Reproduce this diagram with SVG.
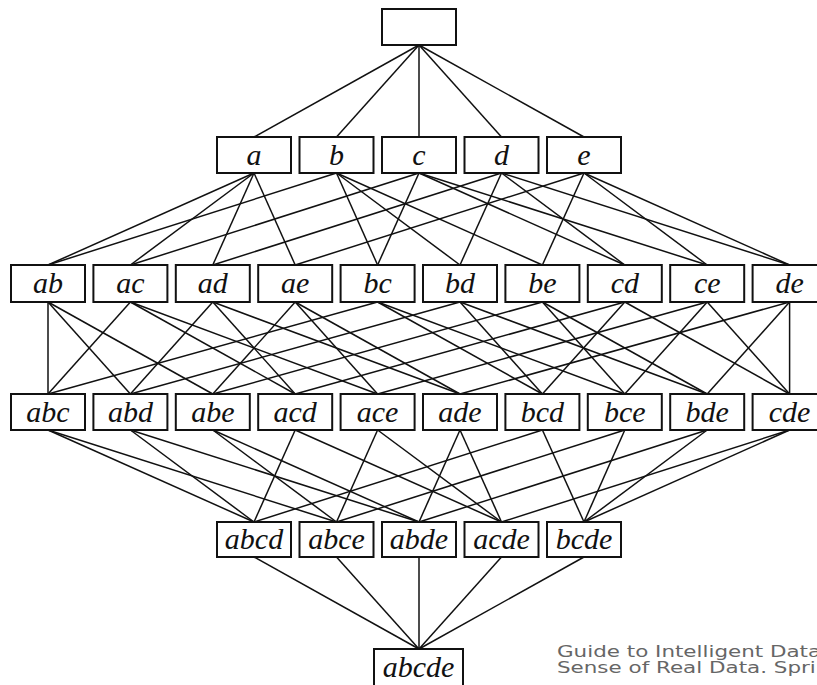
<svg xmlns="http://www.w3.org/2000/svg" width="817" height="685" viewBox="0 0 817 685">
<style>
.e line{stroke:#111;stroke-width:1.5;fill:none}
.n rect{fill:#fff;stroke:#111;stroke-width:2}
.n text{font-family:"Liberation Serif","Times New Roman",serif;font-style:italic;font-size:30px;fill:#111;text-anchor:middle}
.cap{font-family:"DejaVu Sans","Noto Sans",sans-serif;font-size:16px;fill:#666}
</style>
<rect width="817" height="685" fill="#fff"/>
<g id="connectors" class="e">
<line x1="419" y1="45" x2="254" y2="137"/><line x1="419" y1="45" x2="336.5" y2="137"/><line x1="419" y1="45" x2="419" y2="137"/><line x1="419" y1="45" x2="501.5" y2="137"/><line x1="419" y1="45" x2="584" y2="137"/>
<line x1="254" y1="173" x2="48" y2="265"/><line x1="254" y1="173" x2="130.4" y2="265"/><line x1="254" y1="173" x2="212.8" y2="265"/><line x1="254" y1="173" x2="295.2" y2="265"/>
<line x1="336.5" y1="173" x2="48" y2="265"/><line x1="336.5" y1="173" x2="377.6" y2="265"/><line x1="336.5" y1="173" x2="460" y2="265"/><line x1="336.5" y1="173" x2="542.4" y2="265"/>
<line x1="419" y1="173" x2="130.4" y2="265"/><line x1="419" y1="173" x2="377.6" y2="265"/><line x1="419" y1="173" x2="624.8" y2="265"/><line x1="419" y1="173" x2="707.2" y2="265"/>
<line x1="501.5" y1="173" x2="212.8" y2="265"/><line x1="501.5" y1="173" x2="460" y2="265"/><line x1="501.5" y1="173" x2="624.8" y2="265"/><line x1="501.5" y1="173" x2="789.6" y2="265"/>
<line x1="584" y1="173" x2="295.2" y2="265"/><line x1="584" y1="173" x2="542.4" y2="265"/><line x1="584" y1="173" x2="707.2" y2="265"/><line x1="584" y1="173" x2="789.6" y2="265"/>
<line x1="48" y1="302" x2="48" y2="394"/><line x1="48" y1="302" x2="130.4" y2="394"/><line x1="48" y1="302" x2="212.8" y2="394"/>
<line x1="130.4" y1="302" x2="48" y2="394"/><line x1="130.4" y1="302" x2="295.2" y2="394"/><line x1="130.4" y1="302" x2="377.6" y2="394"/>
<line x1="212.8" y1="302" x2="130.4" y2="394"/><line x1="212.8" y1="302" x2="295.2" y2="394"/><line x1="212.8" y1="302" x2="460" y2="394"/>
<line x1="295.2" y1="302" x2="212.8" y2="394"/><line x1="295.2" y1="302" x2="377.6" y2="394"/><line x1="295.2" y1="302" x2="460" y2="394"/>
<line x1="377.6" y1="302" x2="48" y2="394"/><line x1="377.6" y1="302" x2="542.4" y2="394"/><line x1="377.6" y1="302" x2="624.8" y2="394"/>
<line x1="460" y1="302" x2="130.4" y2="394"/><line x1="460" y1="302" x2="542.4" y2="394"/><line x1="460" y1="302" x2="707.2" y2="394"/>
<line x1="542.4" y1="302" x2="212.8" y2="394"/><line x1="542.4" y1="302" x2="624.8" y2="394"/><line x1="542.4" y1="302" x2="707.2" y2="394"/>
<line x1="624.8" y1="302" x2="295.2" y2="394"/><line x1="624.8" y1="302" x2="542.4" y2="394"/><line x1="624.8" y1="302" x2="789.6" y2="394"/>
<line x1="707.2" y1="302" x2="377.6" y2="394"/><line x1="707.2" y1="302" x2="624.8" y2="394"/><line x1="707.2" y1="302" x2="789.6" y2="394"/>
<line x1="789.6" y1="302" x2="460" y2="394"/><line x1="789.6" y1="302" x2="707.2" y2="394"/><line x1="789.6" y1="302" x2="789.6" y2="394"/>
<line x1="48" y1="430" x2="254" y2="522"/><line x1="48" y1="430" x2="336.5" y2="522"/>
<line x1="130.4" y1="430" x2="254" y2="522"/><line x1="130.4" y1="430" x2="419" y2="522"/>
<line x1="212.8" y1="430" x2="336.5" y2="522"/><line x1="212.8" y1="430" x2="419" y2="522"/>
<line x1="295.2" y1="430" x2="254" y2="522"/><line x1="295.2" y1="430" x2="501.5" y2="522"/>
<line x1="377.6" y1="430" x2="336.5" y2="522"/><line x1="377.6" y1="430" x2="501.5" y2="522"/>
<line x1="460" y1="430" x2="419" y2="522"/><line x1="460" y1="430" x2="501.5" y2="522"/>
<line x1="542.4" y1="430" x2="254" y2="522"/><line x1="542.4" y1="430" x2="584" y2="522"/>
<line x1="624.8" y1="430" x2="336.5" y2="522"/><line x1="624.8" y1="430" x2="584" y2="522"/>
<line x1="707.2" y1="430" x2="419" y2="522"/><line x1="707.2" y1="430" x2="584" y2="522"/>
<line x1="789.6" y1="430" x2="501.5" y2="522"/><line x1="789.6" y1="430" x2="584" y2="522"/>
<line x1="254" y1="557" x2="419" y2="649"/><line x1="336.5" y1="557" x2="419" y2="649"/><line x1="419" y1="557" x2="419" y2="649"/><line x1="501.5" y1="557" x2="419" y2="649"/><line x1="584" y1="557" x2="419" y2="649"/>
</g>
<g class="n">
<g id="empty"><rect x="382" y="9" width="74" height="36"/></g>
<g id="a"><rect x="217" y="137" width="74" height="36"/><text x="254" y="165">a</text></g>
<g id="b"><rect x="299.5" y="137" width="74" height="36"/><text x="336.5" y="165">b</text></g>
<g id="c"><rect x="382" y="137" width="74" height="36"/><text x="419" y="165">c</text></g>
<g id="d"><rect x="464.5" y="137" width="74" height="36"/><text x="501.5" y="165">d</text></g>
<g id="e"><rect x="547" y="137" width="74" height="36"/><text x="584" y="165">e</text></g>

<g id="ab"><rect x="11" y="265" width="74" height="37"/><text x="48" y="293">ab</text></g>
<g id="ac"><rect x="93.4" y="265" width="74" height="37"/><text x="130.4" y="293">ac</text></g>
<g id="ad"><rect x="175.8" y="265" width="74" height="37"/><text x="212.8" y="293">ad</text></g>
<g id="ae"><rect x="258.2" y="265" width="74" height="37"/><text x="295.2" y="293">ae</text></g>
<g id="bc"><rect x="340.6" y="265" width="74" height="37"/><text x="377.6" y="293">bc</text></g>
<g id="bd"><rect x="423" y="265" width="74" height="37"/><text x="460" y="293">bd</text></g>
<g id="be"><rect x="505.4" y="265" width="74" height="37"/><text x="542.4" y="293">be</text></g>
<g id="cd"><rect x="587.8" y="265" width="74" height="37"/><text x="624.8" y="293">cd</text></g>
<g id="ce"><rect x="670.2" y="265" width="74" height="37"/><text x="707.2" y="293">ce</text></g>
<g id="de"><rect x="752.6" y="265" width="74" height="37"/><text x="789.6" y="293">de</text></g>

<g id="abc"><rect x="11" y="394" width="74" height="36"/><text x="48" y="422">abc</text></g>
<g id="abd"><rect x="93.4" y="394" width="74" height="36"/><text x="130.4" y="422">abd</text></g>
<g id="abe"><rect x="175.8" y="394" width="74" height="36"/><text x="212.8" y="422">abe</text></g>
<g id="acd"><rect x="258.2" y="394" width="74" height="36"/><text x="295.2" y="422">acd</text></g>
<g id="ace"><rect x="340.6" y="394" width="74" height="36"/><text x="377.6" y="422">ace</text></g>
<g id="ade"><rect x="423" y="394" width="74" height="36"/><text x="460" y="422">ade</text></g>
<g id="bcd"><rect x="505.4" y="394" width="74" height="36"/><text x="542.4" y="422">bcd</text></g>
<g id="bce"><rect x="587.8" y="394" width="74" height="36"/><text x="624.8" y="422">bce</text></g>
<g id="bde"><rect x="670.2" y="394" width="74" height="36"/><text x="707.2" y="422">bde</text></g>
<g id="cde"><rect x="752.6" y="394" width="74" height="36"/><text x="789.6" y="422">cde</text></g>

<g id="abcd"><rect x="217" y="522" width="74" height="35"/><text x="254" y="549">abcd</text></g>
<g id="abce"><rect x="299.5" y="522" width="74" height="35"/><text x="336.5" y="549">abce</text></g>
<g id="abde"><rect x="382" y="522" width="74" height="35"/><text x="419" y="549">abde</text></g>
<g id="acde"><rect x="464.5" y="522" width="74" height="35"/><text x="501.5" y="549">acde</text></g>
<g id="bcde"><rect x="547" y="522" width="74" height="35"/><text x="584" y="549">bcde</text></g>

<g id="abcde"><rect x="374" y="649" width="89" height="45"/><text x="418.5" y="677">abcde</text></g>
</g>
<g transform="translate(557,0) scale(1.34,1)">
<text class="cap" x="0" y="657">Guide to Intelligent Data</text>
<text class="cap" x="0" y="673">Sense of Real Data. Springer</text>
</g>
</svg>
